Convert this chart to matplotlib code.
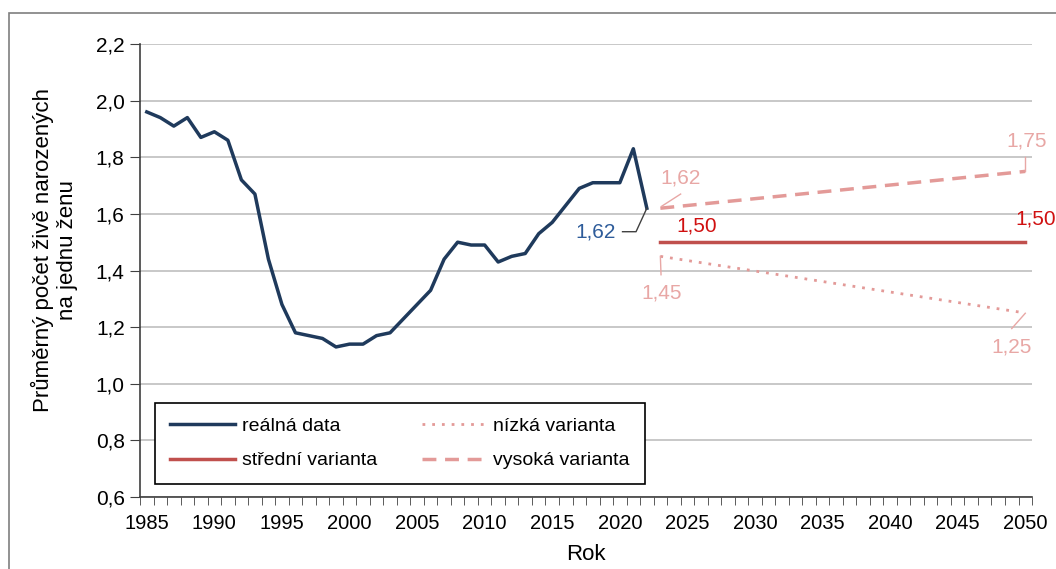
import matplotlib
matplotlib.use("Agg")
import matplotlib.pyplot as plt
from matplotlib.patches import Rectangle
from matplotlib.ticker import MultipleLocator, FixedLocator, FuncFormatter
import numpy as np

plt.rcParams["font.family"] = ["Liberation Sans", "DejaVu Sans"]

# real data (1985-2022)
years_real = list(range(1985, 2023))
tfr_real = [1.96, 1.94, 1.91, 1.94, 1.87, 1.89, 1.86, 1.72, 1.67, 1.44,
            1.28, 1.18, 1.17, 1.16, 1.13, 1.14, 1.14, 1.17, 1.18, 1.23,
            1.28, 1.33, 1.44, 1.50, 1.49, 1.49, 1.43, 1.45, 1.46, 1.53,
            1.57, 1.63, 1.69, 1.71, 1.71, 1.71, 1.83, 1.62]

# projection variants (2023-2050)
years_proj = [2023, 2050]
low = [1.45, 1.25]
mid = [1.50, 1.50]
high = [1.62, 1.75]

c_real = "#1F3A5C"
c_mid = "#C0504D"
c_var = "#E39A98"
c_lab_var = "#E8A7A5"
c_lab_mid = "#D01010"

fig = plt.figure(figsize=(10.56, 5.69), dpi=100)
ax = fig.add_axes([0.1326, 0.1265, 0.8447, 0.7962])

# outer frame of the original chart
fig.patches.append(Rectangle((9 / 1056, -0.1), 1.2, 1 - 13 / 569 + 0.1,
                             transform=fig.transFigure, fill=False,
                             edgecolor="#7F7F7F", lw=1.2))

ax.plot(years_real, tfr_real, color=c_real, lw=2.5, label="reálná data")
ax.plot(years_proj, mid, color=c_mid, lw=2.5, label="střední varianta")
ax.plot(years_proj, low, color=c_var, lw=2.0, ls=(0, (1, 2.5)), label="nízká varianta")
ax.plot(years_proj, high, color=c_var, lw=2.5, ls=(0, (4, 2.5)), label="vysoká varianta")

ax.set_xlim(1984.5, 2050.5)
ax.set_ylim(0.6, 2.2)
ax.yaxis.set_major_locator(MultipleLocator(0.2))
ax.yaxis.set_major_formatter(FuncFormatter(lambda v, p: f"{v:.1f}".replace(".", ",")))
ax.xaxis.set_major_locator(MultipleLocator(5))
ax.xaxis.set_minor_locator(FixedLocator(np.arange(1984.5, 2051, 1)))
ax.xaxis.set_major_formatter(FuncFormatter(lambda v, p: f"{int(v)}"))
ax.grid(axis="y", color="#BFBFBF", lw=1.2)
ax.set_axisbelow(True)
for s in ["top", "right"]:
    ax.spines[s].set_visible(False)
for s in ["left", "bottom"]:
    ax.spines[s].set_color("#404040")
    ax.spines[s].set_linewidth(1.2)
ax.tick_params(axis="both", which="both", direction="out", color="#404040")
ax.tick_params(axis="y", which="major", length=7, labelsize=15, pad=4)
ax.tick_params(axis="x", which="major", length=0, labelsize=14.5, pad=12)
ax.tick_params(axis="x", which="minor", length=6)

ax.set_xlabel("Rok", fontsize=16, labelpad=8)
ax.set_ylabel("Průměrný počet živě narozených\nna jednu ženu", fontsize=16)
ax.yaxis.set_label_coords(-0.069, 0.545)

# value labels with leader lines
ax.plot([2022, 2021.2, 2020.2], [1.62, 1.537, 1.537], color="#404040", lw=1)
ax.text(2019.7, 1.537, "1,62", color="#2E5C9A", fontsize=15, ha="right", va="center")

ax.plot([2023.1, 2024.5], [1.627, 1.67], color=c_lab_var, lw=1)
ax.text(2024.5, 1.728, "1,62", color=c_lab_var, fontsize=15, ha="center", va="center")

ax.plot([2050, 2050], [1.75, 1.80], color=c_lab_var, lw=1)
ax.text(2050.1, 1.857, "1,75", color=c_lab_var, fontsize=15, ha="center", va="center")

ax.text(2025.7, 1.557, "1,50", color=c_lab_mid, fontsize=15, ha="center", va="center")
ax.text(2050.8, 1.582, "1,50", color=c_lab_mid, fontsize=15, ha="center", va="center")

ax.plot([2023, 2023.05], [1.45, 1.385], color=c_lab_var, lw=1)
ax.text(2023.1, 1.32, "1,45", color=c_lab_var, fontsize=15, ha="center", va="center")

ax.plot([2050, 2049.0], [1.249, 1.195], color=c_lab_var, lw=1)
ax.text(2049.0, 1.129, "1,25", color=c_lab_var, fontsize=15, ha="center", va="center")

leg = ax.legend(ncol=2, loc="lower left", bbox_to_anchor=(0.0168, 0.0287),
                borderaxespad=0, fontsize=14, handlelength=3.35, columnspacing=2.3,
                borderpad=0.75, labelspacing=0.85, handletextpad=0.35,
                fancybox=False, framealpha=1, edgecolor="black")
leg.get_frame().set_linewidth(1.2)

fig.savefig("out.png", dpi=100)
